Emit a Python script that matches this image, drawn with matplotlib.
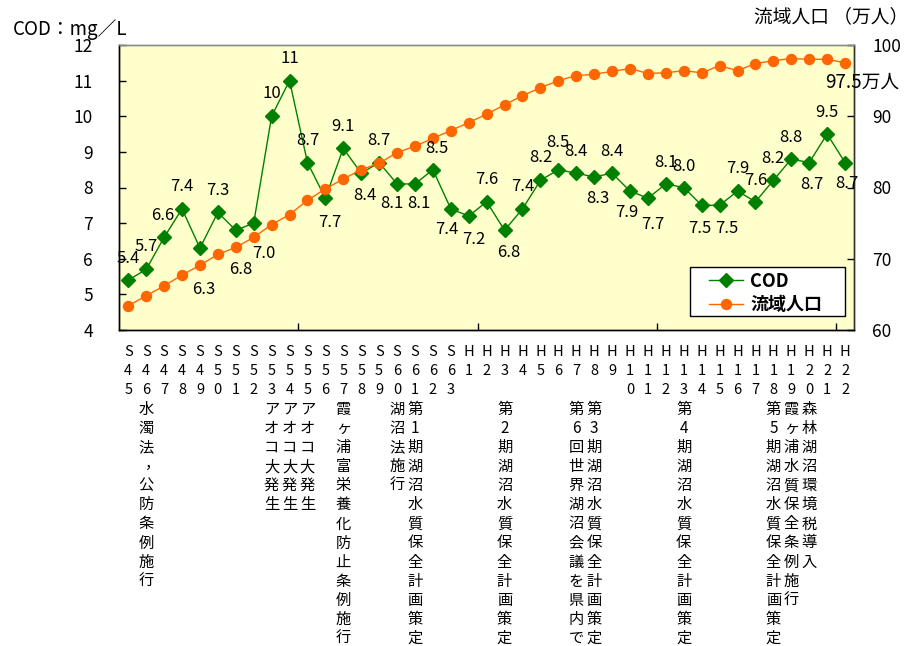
import matplotlib
matplotlib.use("Agg")
import matplotlib.pyplot as plt
from matplotlib.patches import Rectangle

plt.rcParams['font.family'] = ['Noto Sans CJK JP', 'DejaVu Sans']

# ---- data -------------------------------------------------------------
years = ['S45', 'S46', 'S47', 'S48', 'S49', 'S50', 'S51', 'S52', 'S53', 'S54',
         'S55', 'S56', 'S57', 'S58', 'S59', 'S60', 'S61', 'S62', 'S63',
         'H1', 'H2', 'H3', 'H4', 'H5', 'H6', 'H7', 'H8', 'H9', 'H10', 'H11',
         'H12', 'H13', 'H14', 'H15', 'H16', 'H17', 'H18', 'H19', 'H20', 'H21', 'H22']

cod = [5.4, 5.7, 6.6, 7.4, 6.3, 7.3, 6.8, 7.0, 10, 11,
       8.7, 7.7, 9.1, 8.4, 8.7, 8.1, 8.1, 8.5, 7.4,
       7.2, 7.6, 6.8, 7.4, 8.2, 8.5, 8.4, 8.3, 8.4, 7.9, 7.7,
       8.1, 8.0, 7.5, 7.5, 7.9, 7.6, 8.2, 8.8, 8.7, 9.5, 8.7]

population = [63.4, 64.8, 66.2, 67.7, 69.1, 70.6, 71.6, 73.0, 74.8, 76.2,
              78.2, 79.8, 81.2, 82.5, 83.4, 84.9, 85.8, 86.9, 88.0,
              89.1, 90.3, 91.6, 92.9, 94.0, 95.0, 95.7, 95.9, 96.3, 96.7, 96.0,
              96.1, 96.4, 96.1, 97.1, 96.4, 97.4, 97.8, 98.1, 98.0, 98.0, 97.5]

events = {
    'S46': '水濁法，公防条例施行',
    'S53': 'アオコ大発生',
    'S54': 'アオコ大発生',
    'S55': 'アオコ大発生',
    'S57': '霞ヶ浦富栄養化防止条例施行',
    'S60': '湖沼法施行',
    'S61': '第1期湖沼水質保全計画策定',
    'H3': '第2期湖沼水質保全計画策定',
    'H7': '第6回世界湖沼会議を県内で',
    'H8': '第3期湖沼水質保全計画策定',
    'H13': '第4期湖沼水質保全計画策定',
    'H18': '第5期湖沼水質保全計画策定',
    'H19': '霞ヶ浦水質保全条例施行',
    'H20': '森林湖沼環境税導入',
}

# placement of each COD value label relative to its marker (pixels, +y = down)
label_offsets = [(0, -22), (0, -23), (-1, -22), (0, -22), (4, 41), (0, -22), (5, 39),
                 (10, 30), (0, -23), (0, -22), (0, -22), (4, 24), (0, -22), (4, 22),
                 (0, -22), (-5, 20), (4, 20), (4, -21), (-4, 21), (5, 23), (0, -22),
                 (4, 22), (0, -22), (0, -23), (0, -27), (0, -22), (4, 22), (0, -22),
                 (-3, 21), (5, 26), (0, -21), (0, -21), (-2, 23), (7, 23), (0, -23),
                 (0, -21), (0, -22), (0, -22), (3, 22), (0, -22), (2, 21)]

# ---- figure ------------------------------------------------------------
W, H = 912, 646
fig = plt.figure(figsize=(W / 100, H / 100), dpi=100)
fig.patch.set_facecolor('white')

left, right, top, bottom = 119.3, 854.0, 45.0, 330.0
ax = fig.add_axes([left / W, 1 - bottom / H, (right - left) / W, (bottom - top) / H])
ax.set_facecolor('#FFFFCC')
ax2 = ax.twinx()

x = list(range(len(years)))

cod_line, = ax.plot(x, cod, color='#008000', lw=1.0, marker='D', ms=7.5,
                    mfc='#008000', mec='#008000', label='COD', zorder=3)
pop_line, = ax2.plot(x, population, color='#FF6600', lw=1.0, marker='o', ms=7.2,
                     mfc='#FF6600', mec='#FF6600', label='流域人口', zorder=3)

ax.set_xlim(-0.5, len(years) - 0.5)
ax.set_ylim(4, 12)
ax2.set_ylim(60, 100)

ax.set_yticks(range(4, 13))
ax2.set_yticks(range(60, 101, 10))
ax.set_xticks([9.5, 19.5, 29.5, 39.5])
ax.set_xticklabels([])

ax.tick_params(axis='y', direction='in', length=5, width=1, pad=19, labelsize=12.5)
ax.tick_params(axis='x', direction='in', length=5, width=1, labelbottom=False)
ax2.tick_params(axis='y', direction='in', length=5, width=1, pad=13, labelsize=12.5)

for a in (ax, ax2):
    a.spines['top'].set_color('#8c8c8c')
    a.spines['left'].set_color('black')
    a.spines['bottom'].set_color('black')
    a.spines['right'].set_color('#333333')
    for s in a.spines.values():
        s.set_linewidth(1.0)

# COD value labels
for i, v in enumerate(cod):
    txt = f'{v:.0f}' if v >= 10 else f'{v:.1f}'
    dx, dy = label_offsets[i]
    ax2.annotate(txt, xy=(i, v), xycoords=ax.transData,
                 xytext=(dx, -dy), textcoords='offset pixels',
                 ha='center', va='center', fontsize=12, color='black', zorder=5)

# population value for the final year
ax2.annotate(f'{population[-1]:.1f}万人', xy=(len(years) - 1, population[-1]),
             xytext=(17, -19), textcoords='offset pixels',
             ha='center', va='center', fontsize=13.5, annotation_clip=False)

# vertical category labels: year then event text, one character per row
row0, row_step = 352 - bottom, 19.1
for i, yr in enumerate(years):
    for k, ch in enumerate(yr):
        ax.annotate(ch, xy=(i, 0), xycoords=('data', 'axes fraction'),
                    xytext=(0, -(row0 + k * row_step)), textcoords='offset pixels',
                    ha='center', va='center', fontsize=10.5, annotation_clip=False)
    for k, ch in enumerate(events.get(yr, '')):
        dx, dy = (6, 3) if ch == '，' else (0, 0)
        ax.annotate(ch, xy=(i, 0), xycoords=('data', 'axes fraction'),
                    xytext=(dx, -(row0 + (k + 3) * row_step) + dy),
                    textcoords='offset pixels',
                    ha='center', va='center', fontsize=11, annotation_clip=False)

# axis captions
fig.text(13 / W, 1 - 29 / H, 'COD：mg／L', ha='left', va='center', fontsize=13.5)
fig.text(908 / W, 1 - 17 / H, '流域人口 （万人）', ha='right', va='center', fontsize=13.5)

# legend: boxed frame plus frameless entries
ax2.add_patch(Rectangle((690 / W, 1 - 316 / H), 155 / W, 49 / H,
                        transform=fig.transFigure, facecolor='white',
                        edgecolor='black', linewidth=1.0, zorder=6, clip_on=False))
leg = ax2.legend(handles=[cod_line, pop_line], loc='upper left',
                 bbox_to_anchor=(705 / W, 1 - 268 / H), bbox_transform=fig.transFigure,
                 frameon=False, borderaxespad=0,
                 handlelength=1.9, handletextpad=0.4, labelspacing=0.25,
                 borderpad=0.2, prop={'size': 13, 'weight': 'bold'})
leg.set_zorder(7)

fig.savefig('out.png', dpi=100)
